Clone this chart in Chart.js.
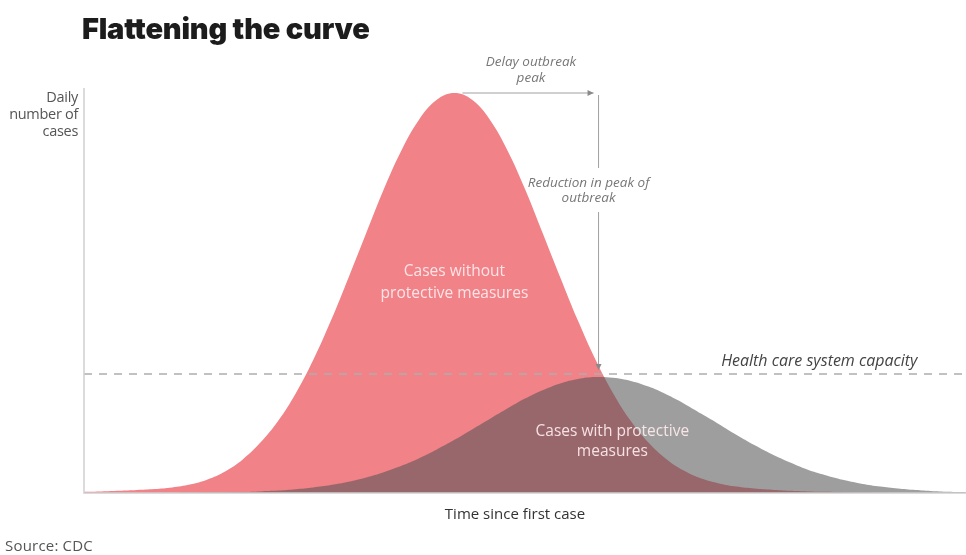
<!DOCTYPE html>
<html lang="en">
<head>
    <meta charset="UTF-8">
    <title>Flattening the curve</title>
    <script src="https://cdn.jsdelivr.net/npm/chart.js"></script>
    <style>
        body {
            margin: 0;
            background: #fff;
            font-family: "Open Sans", sans-serif;
        }
        .wrap {
            position: relative;
            width: 966px;
            height: 555px;
            overflow: hidden;
        }
        canvas {
            position: absolute;
            left: 0;
            top: 0;
        }
        h1 {
            position: absolute;
            left: 82px;
            top: 11px;
            margin: 0;
            font: 900 29px Inter, sans-serif;
            color: #1c1c1c;
            letter-spacing: -0.2px;
        }
        .ylabel {
            position: absolute;
            right: 888px;
            top: 88px;
            text-align: right;
            font-size: 14.5px;
            line-height: 17px;
            letter-spacing: -0.3px;
            color: #555;
        }
        .xlabel {
            position: absolute;
            left: 0;
            width: 1030px;
            top: 503px;
            text-align: center;
            font-size: 15px;
            color: #333;
        }
        .source {
            position: absolute;
            left: 5px;
            top: 535px;
            font-size: 15px;
            letter-spacing: 0.2px;
            color: #555;
        }
    </style>
</head>
<body>
    <div class="wrap">
        <canvas id="curveChart" width="966" height="555"></canvas>
        <h1>Flattening the curve</h1>
        <div class="ylabel">Daily<br>number of<br>cases</div>
        <div class="xlabel">Time since first case</div>
        <div class="source">Source: CDC</div>
    </div>

    <script>
        // time since first case (arbitrary units)
        const time = [0, 2, 4, 6, 8, 10, 12, 14, 16, 18, 20, 22, 24, 26, 28, 30, 32, 34, 36, 38, 40, 42, 44, 46, 48, 50,
                      52, 54, 56, 58, 60, 62, 64, 66, 68, 70, 72, 74, 76, 78, 80, 82, 84, 86, 88, 90, 92, 94, 96, 98, 100];

        // daily cases, no protective measures
        const withoutMeasures = [0.3, 0.4, 0.55, 0.75, 1.0, 1.4, 2.1, 3.4, 5.4, 8.4, 12.6, 18.0, 24.9, 33.3, 43.1, 53.9, 65.0, 76.0, 85.7, 93.4, 98.3, 100, 98.3, 93.4, 85.7, 76.0,
                                 65.0, 53.9, 43.1, 33.3, 24.9, 18.0, 12.6, 8.5, 5.6, 3.6, 2.4, 1.6, 1.1, 0.8, 0.55, 0.4, 0.3, 0.2, 0.1, 0.05, 0, 0, 0, 0, 0];

        // daily cases, with protective measures
        const withMeasures = [0, 0, 0, 0, 0, 0, 0.05, 0.1, 0.15, 0.25, 0.4, 0.6, 0.95, 1.4, 2.0, 2.8, 3.9, 5.2, 6.8, 8.7, 10.9, 13.3, 15.9, 18.5, 21.1, 23.6,
                              25.7, 27.4, 28.5, 29.0, 28.8, 28.0, 26.6, 24.7, 22.4, 19.8, 17.2, 14.5, 12.0, 9.7, 7.7, 5.9, 4.5, 3.3, 2.4, 1.7, 1.2, 0.8, 0.5, 0.3, 0.2];

        const capacity = 29.75;

        const redPeakIdx = withoutMeasures.indexOf(Math.max(...withoutMeasures));
        const grayPeakIdx = withMeasures.indexOf(Math.max(...withMeasures));

        function toPoints(values) {
            return values.map((v, i) => ({ x: time[i], y: v }));
        }

        function arrowHead(ctx, x, y, dir) {
            ctx.beginPath();
            if (dir === 'right') {
                ctx.moveTo(x, y);
                ctx.lineTo(x - 6, y - 3);
                ctx.lineTo(x - 6, y + 3);
            } else {
                ctx.moveTo(x, y);
                ctx.lineTo(x - 3, y - 6);
                ctx.lineTo(x + 3, y - 6);
            }
            ctx.closePath();
            ctx.fill();
        }

        // axis lines, arrows and labels drawn on top of the areas
        const annotations = {
            id: 'annotations',
            afterDatasetsDraw(chart) {
                const { ctx, chartArea, scales: { x, y } } = chart;
                ctx.save();

                ctx.strokeStyle = '#cfcfcf';
                ctx.lineWidth = 1.5;
                ctx.beginPath();
                ctx.moveTo(chartArea.left, chartArea.top);
                ctx.lineTo(chartArea.left, chartArea.bottom);
                ctx.lineTo(chartArea.right, chartArea.bottom);
                ctx.stroke();

                const peakY = y.getPixelForValue(withoutMeasures[redPeakIdx]);
                const x0 = x.getPixelForValue(time[redPeakIdx]) + 8;
                const x1 = x.getPixelForValue(time[grayPeakIdx]) - 2;
                const vx = x1 + 5;
                const capY = y.getPixelForValue(capacity);

                ctx.strokeStyle = '#a0a0a0';
                ctx.fillStyle = '#8a8a8a';
                ctx.lineWidth = 1;
                ctx.beginPath();
                ctx.moveTo(x0, peakY);
                ctx.lineTo(x1, peakY);
                ctx.stroke();
                arrowHead(ctx, x1, peakY, 'right');

                ctx.beginPath();
                ctx.moveTo(vx, peakY + 2);
                ctx.lineTo(vx, 168);
                ctx.moveTo(vx, 212);
                ctx.lineTo(vx, capY - 6);
                ctx.stroke();
                arrowHead(ctx, vx, capY - 4, 'down');

                ctx.textAlign = 'center';
                ctx.textBaseline = 'middle';
                ctx.fillStyle = '#777';
                ctx.font = 'italic 13.5px "Open Sans", sans-serif';
                const mid = (x0 + x1) / 2;
                ctx.fillText('Delay outbreak', mid + 3, peakY - 31);
                ctx.fillText('peak', mid + 3, peakY - 15);
                ctx.fillText('Reduction in peak of', vx - 10, 183);
                ctx.fillText('outbreak', vx - 10, 198);

                ctx.fillStyle = '#444';
                ctx.font = 'italic 16px "Open Sans", sans-serif';
                ctx.textAlign = 'right';
                ctx.textBaseline = 'alphabetic';
                ctx.fillText('Health care system capacity', x.getPixelForValue(94.5), capY - 8);

                ctx.textAlign = 'center';
                ctx.textBaseline = 'middle';
                ctx.fillStyle = 'rgba(255, 236, 238, 0.92)';
                ctx.font = '15.5px "Open Sans", sans-serif';
                const ax = x.getPixelForValue(time[redPeakIdx]);
                const ay = y.getPixelForValue(52.5);
                ctx.fillText('Cases without', ax, ay - 11);
                ctx.fillText('protective measures', ax, ay + 11);
                const bx = x.getPixelForValue(59.9);
                const by = y.getPixelForValue(12.75);
                ctx.fillText('Cases with protective', bx, by - 10);
                ctx.fillText('measures', bx, by + 10);

                ctx.restore();
            }
        };

        const ctx = document.getElementById('curveChart').getContext('2d');
        const curveChart = new Chart(ctx, {
            type: 'line',
            data: {
                datasets: [
                    {
                        label: 'Health care system capacity',
                        data: [{ x: time[0], y: capacity }, { x: time[time.length - 1], y: capacity }],
                        borderColor: '#adadad',
                        borderWidth: 1.5,
                        borderDash: [8, 7],
                        pointRadius: 0,
                        fill: false,
                        order: 0
                    },
                    {
                        label: 'Cases with protective measures',
                        data: toPoints(withMeasures),
                        borderWidth: 0,
                        backgroundColor: 'rgba(82, 82, 84, 0.56)',
                        fill: 'origin',
                        pointRadius: 0,
                        tension: 0.4,
                        order: 1
                    },
                    {
                        label: 'Cases without protective measures',
                        data: toPoints(withoutMeasures),
                        borderWidth: 0,
                        backgroundColor: '#f08288',
                        fill: 'origin',
                        pointRadius: 0,
                        tension: 0.4,
                        order: 2
                    }
                ]
            },
            options: {
                responsive: false,
                animation: false,
                layout: {
                    padding: { left: 84, right: 0, top: 88, bottom: 62 }
                },
                plugins: {
                    legend: { display: false },
                    tooltip: { enabled: false }
                },
                scales: {
                    x: { type: 'linear', min: 0, max: 100, display: false },
                    y: { min: 0, max: 101.25, display: false }
                }
            },
            plugins: [annotations]
        });
    </script>
</body>
</html>
